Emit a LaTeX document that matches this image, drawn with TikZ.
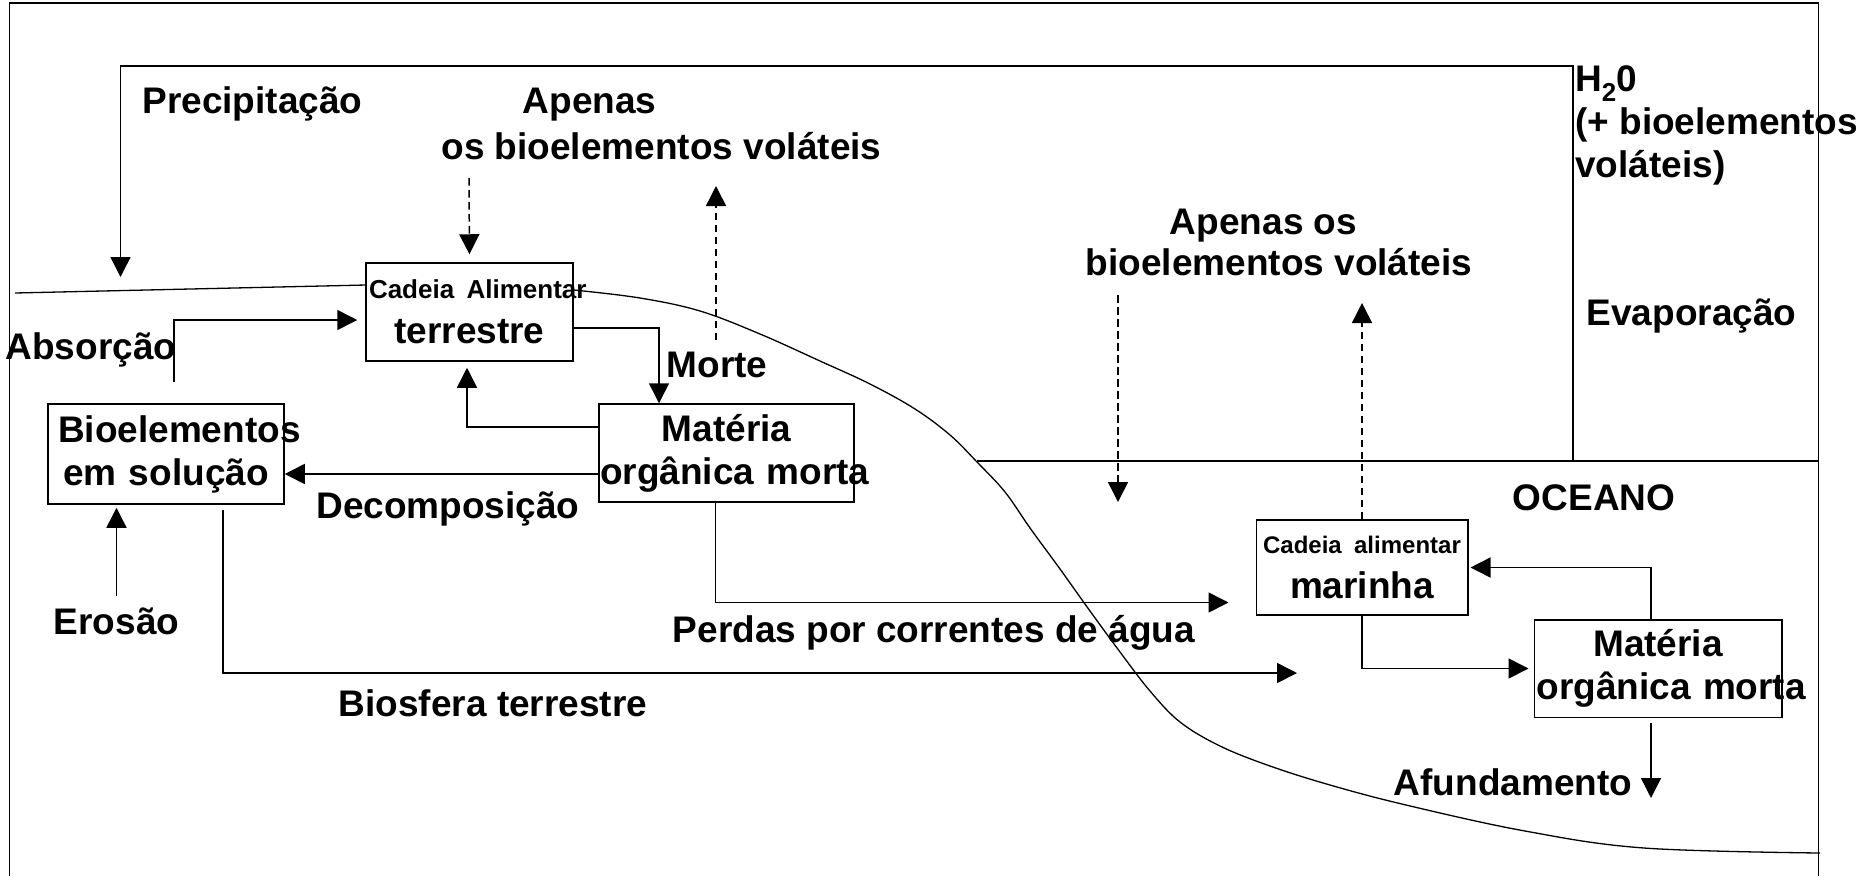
\documentclass[tikz,border=0pt]{standalone}
\usepackage{fontspec}
\setmainfont{Liberation Sans}
\usetikzlibrary{arrows.meta}

\newcommand{\lblfont}{\fontsize{37}{43}\selectfont\bfseries}
\newcommand{\cadfont}{\fontsize{26}{30}\selectfont}
\newcommand{\cadmfont}{\fontsize{24}{28}\selectfont}

\begin{document}
\begin{tikzpicture}[x=1pt, y=-1pt,
  lbl/.style={inner sep=0pt, anchor=base, font=\lblfont},
  box/.style={draw, line width=1.5pt, inner sep=0pt, align=center, font=\lblfont},
  flow/.style={line width=1.5pt, -{Triangle[length=20pt,width=20pt]}},
  gas/.style={flow, dash pattern=on 7.5pt off 4.5pt},
  shore/.style={line width=1.3pt}]

  \useasboundingbox (0,0) rectangle (1862,876);
  \draw [line width=1.5pt] (9.3,876) -- (9.3,3) -- (1818.5,3) -- (1818.5,876);

  % caixas
  \node [box, minimum width=207pt, minimum height=98pt, text width=201pt] (cadT) at (469.5,312) {\mbox{\cadfont Cadeia Alimentar}\\[2pt]terrestre};
  \node [box, minimum width=255pt, minimum height=98pt, text width=253pt] (matT) at (726.5,453) {Matéria\\\mbox{orgânica morta}};
  \node [box, minimum width=236pt, minimum height=100pt, text width=216pt] (bioS) at (166,454) {\mbox{Bioelementos}\\\mbox{em solução}};
  \node [box, minimum width=211.5pt, minimum height=95pt, text width=200pt] (cadM) at (1362,567.5) {\mbox{\cadmfont Cadeia alimentar}\\[2pt]marinha};
  \node [box, minimum width=247.5pt, minimum height=97.5pt, text width=243pt] (matM) at (1658,668.5) {Matéria\\\mbox{orgânica morta}};

  % textos
  \node [lbl] (precip) at (252.5,113) {Precipitação};
  \node [lbl] (apenasT) at (589.5,113) {Apenas};
  \node [lbl] (volT) at (661.5,159) {os bioelementos voláteis};
  \node [lbl, anchor=north west, align=left] (vapor) at (1575,65.5) {H\textsubscript{2}0\\(+ bioelementos\\voláteis)};
  \node [lbl] (apenasM) at (1263.5,234) {Apenas os};
  \node [lbl] (volM) at (1279,275) {bioelementos voláteis};
  \node [lbl] (evap) at (1691.5,325) {Evaporação};
  \node [lbl] (absorcao) at (91,359) {Absorção};
  \node [lbl] (morte) at (717,377) {Morte};
  \node [lbl] (decomp) at (448,518) {Decomposição};
  \node [lbl] (oceano) at (1594,510) {OCEANO};
  \node [lbl] (erosao) at (116.5,634) {Erosão};
  \node [lbl] (perdas) at (934,642) {Perdas por correntes de água};
  \node [lbl] (biosfera) at (493,716) {Biosfera terrestre};
  \node [lbl] (afund) at (1513,795) {Afundamento};

  \coordinate (shoreL) at (15,293);
  \coordinate (shoreM) at (366,285);
  \coordinate (seaL) at (977,461);
  \coordinate (seaR) at (1818.5,461);
  \coordinate (evapBase) at (1573,461);
  \coordinate (cloud) at (1573,66);
  \coordinate (rainTip) at (120.5,277);
  \coordinate (absFoot) at (174,382);
  \coordinate (volInT) at (469,178);
  \coordinate (volOutTBase) at (716,340);
  \coordinate (volOutT) at (716,186);
  \coordinate (volInM) at (1118,295);
  \coordinate (volInMTip) at (1118,502);
  \coordinate (volOutM) at (1362,303);
  \coordinate (bioTip) at (1297,673);
  \coordinate (sinkTip) at (1651,798);

  % costa e oceano
  \draw [shore] (shoreL) -- (shoreM);
  \draw [shore] plot [smooth, tension=0.6] coordinates {(574,290) (640,298) (700,311) (760,334) (820,361) (870,384) (915,409) (950,435) (977,462) (1005,492) (1030,528) (1060,569) (1090,611) (1120,652) (1150,691) (1180,722) (1220,746) (1270,766) (1330,785) (1406,805) (1525,831) (1644,848) (1820,853)};
  \draw [shore] (seaL) -- (seaR);

  \draw [flow] (evapBase) -- (cloud) -| (rainTip);
  \draw [gas, shorten >=8pt] (volInT) -- (cadT.north);
  \draw [gas] (volOutTBase) -- (volOutT);
  \draw [gas] (volInM) -- (volInMTip);
  \draw [gas] (cadM.north) -- (volOutM);

  \draw [flow] (absFoot) |- ([xshift=-8pt,yshift=-8pt]cadT.west);
  \draw [flow] ([yshift=-16pt]cadT.east) -| ([xshift=-67.5pt]matT.north);
  \draw [flow, shorten >=6pt] ([yshift=26pt]matT.west) -| ([xshift=-2.5pt]cadT.south);
  \draw [flow] ([yshift=-21pt]matT.west) -- ([yshift=-20pt]bioS.east);
  \draw [flow, shorten <=11pt, shorten >=3pt] (erosao.north) -- (erosao.north |- bioS.south);
  \draw [flow, shorten <=5pt] ([xshift=57pt]bioS.south) |- (bioTip);
  \draw [flow] ([xshift=-11pt]matT.south) |- ([xshift=-27pt,yshift=-35pt]cadM.west);
  \draw [flow] ([xshift=-7pt]matM.north) |- ([xshift=2pt]cadM.east);
  \draw [flow, shorten >=5pt] (cadM.south) |- (matM.west);
  \draw [flow, shorten <=5pt] ([xshift=-7pt]matM.south) -- (sinkTip);

\end{tikzpicture}
\end{document}
